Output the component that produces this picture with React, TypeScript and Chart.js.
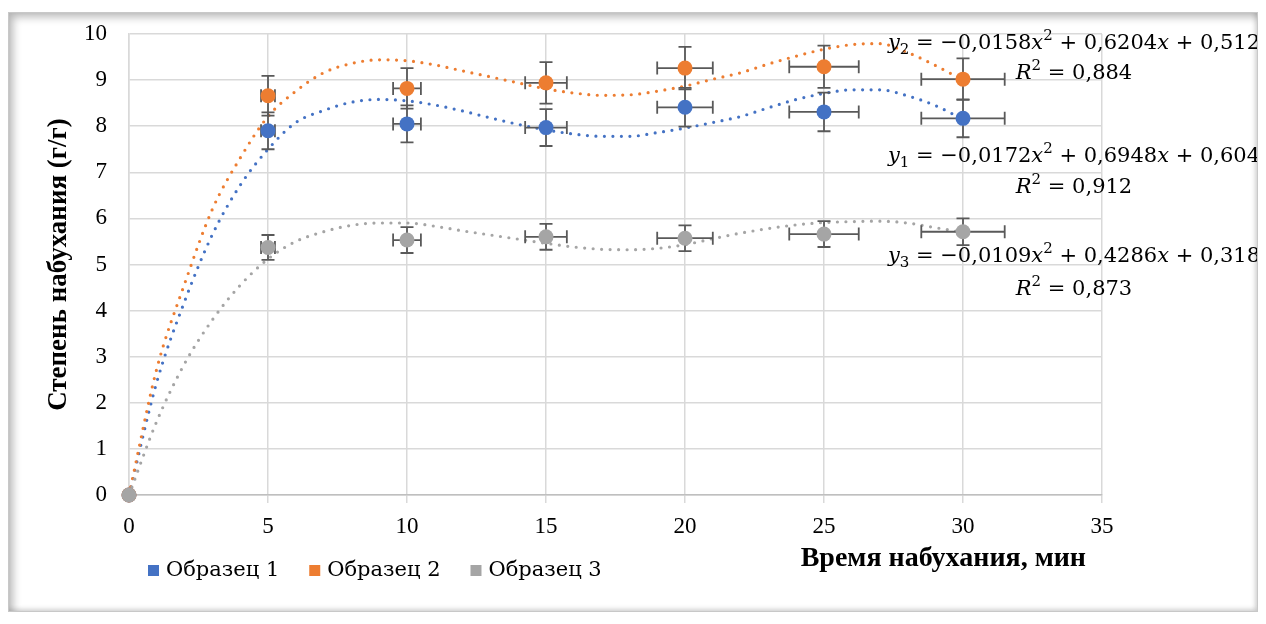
import { useEffect, useRef } from "react";
import { Chart, registerables } from "chart.js";

Chart.register(...registerables);

// ---- data ----
const times = [0, 5, 10, 15, 20, 25, 30];
const sample1 = [0, 7.9, 8.05, 7.97, 8.41, 8.31, 8.17];
const sample2 = [0, 8.66, 8.82, 8.94, 9.26, 9.29, 9.02];
const sample3 = [0, 5.37, 5.53, 5.6, 5.57, 5.66, 5.71];
const timeErr = [0, 0.25, 0.5, 0.75, 1.0, 1.25, 1.5];
const err1 = [0, 0.4, 0.4, 0.4, 0.42, 0.42, 0.41];
const err2 = [0, 0.43, 0.44, 0.45, 0.46, 0.46, 0.45];
const err3 = [0, 0.27, 0.28, 0.28, 0.28, 0.28, 0.29];

const trendX = [0, 1, 2, 3, 4, 5, 6, 7, 8, 9, 10, 11, 12, 13, 14, 15, 16, 17, 18, 19, 20, 21, 22, 23, 24, 25, 26, 27, 28, 29, 30];
const trend1 = [0, 2.45, 4.2, 5.65, 6.72, 7.5, 8.08, 8.34, 8.52, 8.58, 8.55, 8.46, 8.33, 8.18, 8.04, 7.92, 7.83, 7.78, 7.78, 7.86, 7.96, 8.08, 8.21, 8.4, 8.58, 8.71, 8.79, 8.79, 8.66, 8.45, 8.15];
const trend2 = [0, 2.74, 4.58, 6.2, 7.31, 8.21, 8.76, 9.16, 9.36, 9.44, 9.42, 9.33, 9.2, 9.07, 8.94, 8.81, 8.72, 8.67, 8.68, 8.76, 8.87, 9.02, 9.16, 9.35, 9.52, 9.67, 9.77, 9.79, 9.6, 9.32, 9.0];
const trend3 = [0, 1.6, 2.85, 3.8, 4.55, 5.12, 5.5, 5.71, 5.85, 5.9, 5.9, 5.83, 5.73, 5.64, 5.55, 5.46, 5.38, 5.33, 5.32, 5.35, 5.43, 5.56, 5.68, 5.78, 5.86, 5.91, 5.93, 5.94, 5.9, 5.8, 5.7];

const seriesNames = ["Образец 1", "Образец 2", "Образец 3"];
const colors = ["#4472C4", "#ED7D31", "#A5A5A5"];
const xMin = 0;
const xMax = 35;
const xStep = 5;
const yMin = 0;
const yMax = 10;
const yStep = 1;
const xTitle = "Время набухания, мин";
const yTitle = "Степень набухания (г/г)";

type Part = [string, "n" | "i" | "sub" | "sup"];
const eq2: Part[] = [["y", "i"], ["2", "sub"], [" = −0,0158", "n"], ["x", "i"], ["2", "sup"], [" + 0,6204", "n"], ["x", "i"], [" + 0,512", "n"]];
const r2_2: Part[] = [["R", "i"], ["2", "sup"], [" = 0,884", "n"]];
const eq1: Part[] = [["y", "i"], ["1", "sub"], [" = −0,0172", "n"], ["x", "i"], ["2", "sup"], [" + 0,6948", "n"], ["x", "i"], [" + 0,604", "n"]];
const r2_1: Part[] = [["R", "i"], ["2", "sup"], [" = 0,912", "n"]];
const eq3: Part[] = [["y", "i"], ["3", "sub"], [" = −0,0109", "n"], ["x", "i"], ["2", "sup"], [" + 0,4286", "n"], ["x", "i"], [" + 0,318", "n"]];
const r2_3: Part[] = [["R", "i"], ["2", "sup"], [" = 0,873", "n"]];

const EQ_SIZE = 21;
const EQ_FAMILY = "'DejaVu Serif', serif";

function partFont(kind: Part[1]) {
  if (kind === "i") return `italic ${EQ_SIZE}px ${EQ_FAMILY}`;
  if (kind === "sub" || kind === "sup") return `${Math.round(EQ_SIZE * 0.7)}px ${EQ_FAMILY}`;
  return `${EQ_SIZE}px ${EQ_FAMILY}`;
}

function drawRich(ctx: CanvasRenderingContext2D, parts: Part[], cx: number, cy: number) {
  let total = 0;
  const widths = parts.map(([t, k]) => {
    ctx.font = partFont(k);
    const w = ctx.measureText(t).width;
    total += w;
    return w;
  });
  let x = cx - total / 2;
  ctx.textAlign = "left";
  ctx.textBaseline = "middle";
  parts.forEach(([t, k], i) => {
    ctx.font = partFont(k);
    let y = cy;
    if (k === "sub") y = cy + EQ_SIZE * 0.28;
    if (k === "sup") y = cy - EQ_SIZE * 0.38;
    ctx.fillText(t, x, y);
    x += widths[i];
  });
}

const errorBarPlugin = {
  id: "errorBars",
  beforeDatasetDraw(chart: any, args: any) {
    if (args.index !== 3) return;
    const ctx = chart.ctx as CanvasRenderingContext2D;
    const xs = chart.scales.x;
    const ys = chart.scales.y;
    const sets = [
      [sample1, err1],
      [sample2, err2],
      [sample3, err3],
    ];
    const cap = 6.5;
    ctx.save();
    ctx.strokeStyle = "#595959";
    ctx.lineWidth = 1.8;
    sets.forEach(([vals, errs]) => {
      times.forEach((t, i) => {
        const px = xs.getPixelForValue(t);
        const py = ys.getPixelForValue(vals[i]);
        if (errs[i] > 0) {
          const y1 = ys.getPixelForValue(vals[i] + errs[i]);
          const y2 = ys.getPixelForValue(vals[i] - errs[i]);
          ctx.beginPath();
          ctx.moveTo(px, y1);
          ctx.lineTo(px, y2);
          ctx.moveTo(px - cap, y1);
          ctx.lineTo(px + cap, y1);
          ctx.moveTo(px - cap, y2);
          ctx.lineTo(px + cap, y2);
          ctx.stroke();
        }
        if (timeErr[i] > 0) {
          const x1 = xs.getPixelForValue(t - timeErr[i]);
          const x2 = xs.getPixelForValue(t + timeErr[i]);
          ctx.beginPath();
          ctx.moveTo(x1, py);
          ctx.lineTo(x2, py);
          ctx.moveTo(x1, py - cap);
          ctx.lineTo(x1, py + cap);
          ctx.moveTo(x2, py - cap);
          ctx.lineTo(x2, py + cap);
          ctx.stroke();
        }
      });
    });
    ctx.restore();
  },
};

const annotationsPlugin = {
  id: "annotations",
  afterDraw(chart: any) {
    const ctx = chart.ctx as CanvasRenderingContext2D;
    const area = chart.chartArea;
    ctx.save();
    ctx.fillStyle = "#000";
    // equations
    const cx = 1066;
    drawRich(ctx, eq2, cx, 32);
    drawRich(ctx, r2_2, cx, 62);
    drawRich(ctx, eq1, cx, 145);
    drawRich(ctx, r2_1, cx, 176);
    drawRich(ctx, eq3, cx, 245);
    drawRich(ctx, r2_3, cx, 278);

    // x-axis title
    ctx.font = "bold 28px 'Liberation Serif', serif";
    ctx.textAlign = "right";
    ctx.textBaseline = "middle";
    ctx.fillText(xTitle, area.right - 16, 547);

    // legend
    ctx.font = "21px 'DejaVu Serif', serif";
    ctx.textAlign = "left";
    ctx.textBaseline = "middle";
    let lx = 140;
    const ly = 559;
    seriesNames.forEach((name, i) => {
      ctx.fillStyle = colors[i];
      ctx.fillRect(lx, ly - 6, 11, 11);
      ctx.fillStyle = "#000";
      ctx.fillText(name, lx + 18, ly);
      lx += 18 + ctx.measureText(name).width + 30;
    });
    ctx.restore();
  },
};

export default function App() {
  const canvasRef = useRef<HTMLCanvasElement | null>(null);

  useEffect(() => {
    if (!canvasRef.current) return;
    const tickFont = { family: "'Liberation Serif', serif", size: 23 };
    const trend = (vals: number[], color: string, order: number) => ({
      type: "scatter" as const,
      data: trendX.map((x, i) => ({ x, y: vals[i] })),
      showLine: true,
      borderColor: color,
      backgroundColor: color,
      borderWidth: 3.2,
      borderDash: [0, 8.5],
      borderCapStyle: "round" as const,
      pointRadius: 0,
      cubicInterpolationMode: "monotone" as const,
      order,
    });
    const markers = (vals: number[], color: string, order: number) => ({
      type: "scatter" as const,
      data: times.map((x, i) => ({ x, y: vals[i] })),
      backgroundColor: color,
      borderColor: color,
      pointRadius: 7.5,
      pointBorderWidth: 0,
      clip: false,
      order,
    });
    const chart = new Chart(canvasRef.current, {
      type: "scatter",
      data: {
        datasets: [
          trend(trend1, colors[0], 12),
          trend(trend2, colors[1], 11),
          trend(trend3, colors[2], 10),
          markers(sample1, colors[0], 3),
          markers(sample2, colors[1], 2),
          markers(sample3, colors[2], 1),
        ] as any,
      },
      options: {
        responsive: false,
        animation: false,
        layout: { padding: { top: 22, right: 156, bottom: 0, left: 0 } },
        plugins: { legend: { display: false }, tooltip: { enabled: false } },
        scales: {
          x: {
            type: "linear",
            min: xMin,
            max: xMax,
            ticks: { stepSize: xStep, font: tickFont, color: "#000", padding: 10, maxRotation: 0 },
            grid: { color: "#d9d9d9", lineWidth: 1.5, tickLength: 8, tickColor: "#d9d9d9" },
            border: { color: "#bfbfbf", width: 1.5 },
            afterFit: (s: any) => {
              s.height = 117;
            },
          },
          y: {
            type: "linear",
            min: yMin,
            max: yMax,
            ticks: { stepSize: yStep, font: tickFont, color: "#000", padding: 22 },
            grid: { color: "#d9d9d9", lineWidth: 1.5, drawTicks: false },
            border: { color: "#d9d9d9", width: 1.5 },
            title: {
              display: true,
              text: yTitle,
              color: "#000",
              font: { family: "'Liberation Serif', serif", size: 27, weight: "bold" },
              padding: { top: 35, bottom: 0 },
            },
            afterFit: (s: any) => {
              s.width = 121;
              s.paddingTop = 10;
              s.paddingBottom = 10;
            },
          },
        },
      },
      plugins: [errorBarPlugin, annotationsPlugin],
    });
    return () => chart.destroy();
  }, []);

  return (
    <div style={{ paddingTop: 4 }}>
      <div style={{ position: "relative", width: 1250, height: 600, background: "#fff" }}>
        <canvas ref={canvasRef} width={1250} height={600} style={{ display: "block" }} />
        <div
          style={{
            position: "absolute",
            inset: 0,
            border: "1px solid #c8c8c8",
            boxShadow: "inset 4px 4px 8px rgba(0,0,0,0.28), inset -2px -2px 5px rgba(0,0,0,0.15)",
            pointerEvents: "none",
          }}
        />
      </div>
    </div>
  );
}
